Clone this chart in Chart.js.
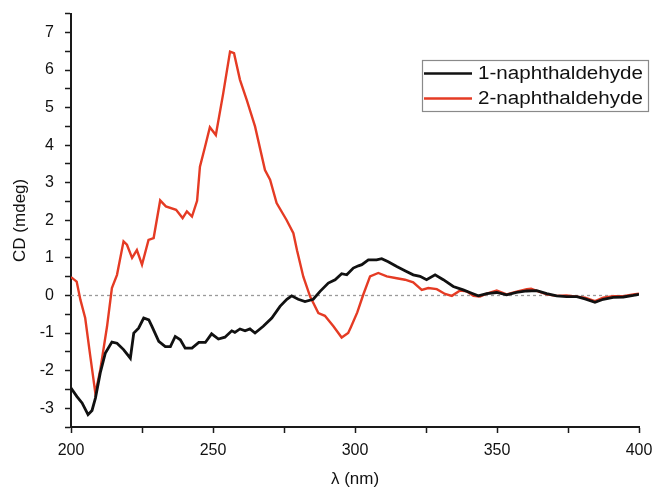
<!DOCTYPE html>
<html><head><meta charset="utf-8">
<script src="https://cdn.jsdelivr.net/npm/chart.js@4/dist/chart.umd.min.js"></script>
<style>html,body{margin:0;padding:0;background:#fff}canvas{display:block}</style>
</head><body><canvas id="c" width="653" height="490"></canvas>
<script>
const seriesNames = ['1-naphthaldehyde', '2-naphthaldehyde'];
const xTitle = 'λ (nm)';
const yTitle = 'CD (mdeg)';

const lambda1 = [200,202.1,203.9,206,207.4,208.6,210.3,212.1,214.4,216.2,218.5,220.9,222.1,223.8,225.6,227.4,228.5,230.9,233.2,235,236.7,238.5,240.2,242.6,245,247.3,249.5,251.9,254.2,256.6,257.7,259.5,261.3,263,264.8,267.7,270.7,273.6,276,277.7,280,282.4,285.3,287.7,290.6,293,295.3,297.1,299.4,301.2,302.4,304.7,307.6,309.4,311.7,314.7,317.6,320.5,322.9,325.2,328.2,331.1,334.6,338.1,341.1,343.4,346.4,349.9,353.4,356.9,360.5,364,367.5,371,374.5,378.1,381,384.5,387.4,390.9,394.5,398,400];
const cd1 = [-2.46,-2.69,-2.86,-3.17,-3.06,-2.73,-2.06,-1.53,-1.24,-1.27,-1.44,-1.67,-1.0,-0.87,-0.6,-0.65,-0.82,-1.22,-1.36,-1.36,-1.09,-1.18,-1.4,-1.4,-1.25,-1.25,-1.02,-1.16,-1.11,-0.94,-0.98,-0.89,-0.94,-0.89,-1.0,-0.82,-0.6,-0.29,-0.1,-0.01,-0.1,-0.16,-0.1,0.11,0.33,0.42,0.58,0.55,0.73,0.79,0.82,0.95,0.95,0.98,0.9,0.77,0.66,0.55,0.51,0.42,0.55,0.42,0.24,0.15,0.06,-0.01,0.05,0.08,0.02,0.08,0.12,0.13,0.05,-0.01,-0.03,-0.03,-0.09,-0.18,-0.1,-0.05,-0.04,0.0,0.03];

const lambda2 = [200,202,203.3,205,206.8,208.6,210.3,212.7,214.4,216.2,218.5,219.7,221.5,223.2,225,227.3,229.1,231.4,233.4,237,239.3,240.8,242.6,244.4,245.4,247.2,248.9,251,253.6,256,257.4,259.5,261.9,264.8,268.3,270.1,272.4,275.9,278.3,279.6,281.8,284.2,287.1,289.4,292.4,295.3,297.6,298.5,300.8,302.9,305.3,308.2,311.2,314.7,317.6,320.5,323.5,325.8,328.8,331.7,334.1,337,339.3,341.7,344,346.4,349.9,353.4,356.9,360.5,362,364,367.5,371,374.5,378.1,381,384.5,387.4,390.9,394.5,398,400];
const cd2 = [0.49,0.37,-0.11,-0.6,-1.62,-2.61,-1.98,-0.82,0.2,0.55,1.44,1.35,1.0,1.21,0.82,1.48,1.53,2.53,2.37,2.28,2.06,2.24,2.1,2.52,3.43,3.96,4.48,4.27,5.38,6.49,6.45,5.74,5.2,4.5,3.34,3.08,2.46,2.01,1.66,1.2,0.5,-0.03,-0.47,-0.54,-0.82,-1.12,-1.0,-0.85,-0.45,0.02,0.51,0.6,0.51,0.46,0.42,0.35,0.15,0.2,0.17,0.04,-0.01,0.13,0.11,-0.01,-0.03,0.05,0.13,0.03,0.1,0.17,0.18,0.12,0.03,-0.01,0.0,-0.03,-0.06,-0.15,-0.06,-0.02,-0.02,0.03,0.05];

const xRange = [200, 400];
const yRange = [-3.5, 7.5];
const xMajorStep = 50, xMinorStep = 25;
const yMajorStep = 1, yMinorStep = 0.5;
const zeroLevel = 0;

const toPts = (xs, ys) => xs.map((x, i) => ({x: x, y: ys[i]}));
const FONT = "'Liberation Sans', Arial, sans-serif";
const AX = '#1a1a1a';

const legendPlugin = {
  id: 'boxLegend',
  afterDraw(chart) {
    const ctx = chart.ctx;
    const bx = 422, by = 60, bw = 226, bh = 51;
    ctx.save();
    ctx.strokeStyle = '#8a8a8a';
    ctx.lineWidth = 1.2;
    ctx.strokeRect(bx + 0.5, by + 0.5, bw, bh);
    const items = chart.data.datasets.filter(d => d.inLegend);
    items.forEach((d, i) => {
      const cy = by + 13.5 + i * 25;
      ctx.strokeStyle = d.borderColor;
      ctx.lineWidth = 2.5;
      ctx.beginPath();
      ctx.moveTo(bx + 2, cy);
      ctx.lineTo(bx + 50, cy);
      ctx.stroke();
      ctx.fillStyle = '#111';
      ctx.font = '18px ' + FONT;
      ctx.textBaseline = 'middle';
      const w = ctx.measureText(d.label).width;
      const sx = 165 / w;
      ctx.save();
      ctx.translate(bx + 56, cy + 1);
      ctx.scale(sx, 1);
      ctx.fillText(d.label, 0, 0);
      ctx.restore();
    });
    ctx.restore();
  }
};

const scaleCommon = {
  type: 'linear',
  grid: { drawOnChartArea: false, drawTicks: true, tickLength: 6, tickColor: AX, tickWidth: 1.5 },
  border: { display: true, color: AX, width: 2 }
};

new Chart(document.getElementById('c'), {
  type: 'line',
  data: {
    datasets: [
      { label: seriesNames[0], inLegend: true, data: toPts(lambda1, cd1), borderColor: '#111111', borderWidth: 2.8, pointRadius: 0, tension: 0, order: 1 },
      { label: seriesNames[1], inLegend: true, data: toPts(lambda2, cd2), borderColor: '#e53b24', borderWidth: 2.4, pointRadius: 0, tension: 0, order: 2 },
      { label: 'zero', inLegend: false, data: toPts(xRange, [zeroLevel, zeroLevel]), borderColor: '#9a9a9a', borderWidth: 1.3, borderDash: [3, 3], pointRadius: 0, tension: 0, order: 3 }
    ]
  },
  options: {
    responsive: false,
    animation: false,
    devicePixelRatio: 1,
    layout: { padding: { left: 0, right: 14, top: 13.7, bottom: 0 } },
    plugins: { legend: { display: false }, tooltip: { enabled: false } },
    scales: {
      x: Object.assign({}, scaleCommon, {
        min: xRange[0], max: xRange[1],
        ticks: { stepSize: xMinorStep, autoSkip: false, maxRotation: 0, padding: 8, color: '#111',
          font: { family: FONT, size: 16 },
          callback: v => (v % xMajorStep === 0 ? String(v) : '') },
        title: { display: true, text: xTitle, color: '#111', font: { family: FONT, size: 17 }, padding: { top: 0, bottom: 0 } },
        afterFit: s => { s.height = 63; s.paddingLeft = 0; s.paddingRight = 0; }
      }),
      y: Object.assign({}, scaleCommon, {
        min: yRange[0], max: yRange[1],
        ticks: { stepSize: yMinorStep, autoSkip: false, padding: 11, color: '#111',
          font: { family: FONT, size: 16 },
          callback: v => (Math.abs(v % yMajorStep) < 1e-9 ? String(v) : '') },
        title: { display: true, text: yTitle, color: '#111', font: { family: FONT, size: 17 }, padding: { top: 10, bottom: 0 } },
        afterFit: s => { s.width = 71; s.paddingTop = 0; s.paddingBottom = 0; }
      })
    }
  },
  plugins: [legendPlugin]
});
</script>
</body></html>
